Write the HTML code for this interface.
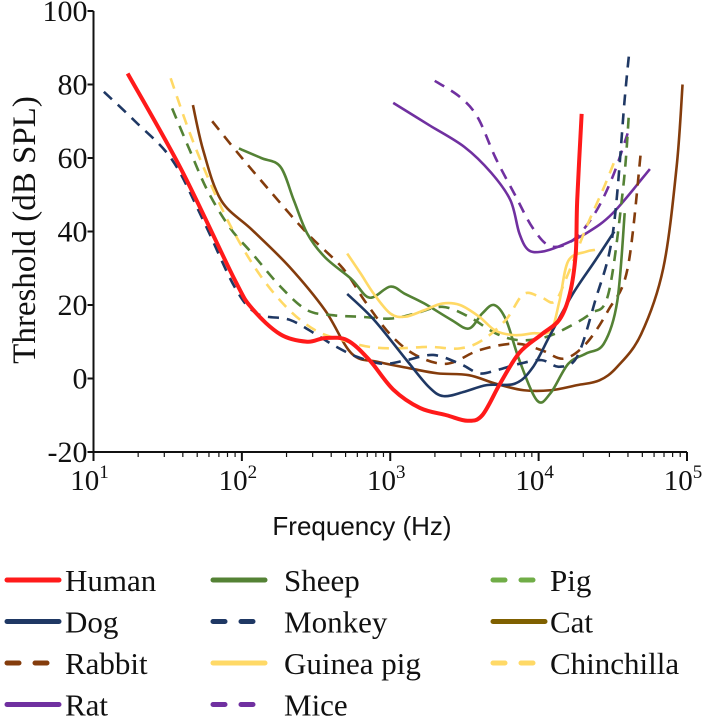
<!DOCTYPE html>
<html><head><meta charset="utf-8"><style>
body{margin:0;background:#fff;width:708px;height:721px;overflow:hidden}
svg text{font-family:"Liberation Serif",serif;fill:#111}
</style></head><body>
<svg id="c" width="708" height="721"></svg>
<script>
const speciesNames=["Human","Dog","Rabbit","Rat","Sheep","Monkey","Guinea pig","Mice","Pig","Cat","Chinchilla"];
const human=[[1.23,83],[1.59,57],[1.95,27],[2.07,19],[2.26,12],[2.44,10],[2.56,11],[2.71,10.4],[2.86,5],[3.02,-3],[3.2,-8],[3.38,-10],[3.52,-11.5],[3.62,-10],[3.74,-1.4],[3.87,7],[4.02,12],[4.14,16],[4.21,23],[4.25,34],[4.26,48.5],[4.29,72]];
const dog=[[2.71,23],[2.89,16],[3.11,5],[3.26,-2.3],[3.36,-4.8],[3.5,-3.6],[3.65,-1.8],[3.84,-1.4],[3.96,3],[4.08,12],[4.23,23],[4.38,32],[4.51,40]];
const rabbit=[[1.8,70],[1.98,61],[2.19,51],[2.44,39.5],[2.68,30],[2.83,21],[3.0,12],[3.17,6.4],[3.38,4],[3.6,7.7],[3.84,9.5],[4.02,7.7],[4.17,5.4],[4.32,9.5],[4.47,18.6],[4.6,30],[4.69,62]];
const rat=[[3.02,75],[3.26,69],[3.5,63],[3.68,56],[3.81,48.5],[3.87,39.5],[3.93,35],[4.02,34.5],[4.14,36],[4.32,39.5],[4.5,45],[4.75,57]];
const sheep=[[1.98,62.6],[2.13,60],[2.26,57.6],[2.35,48.5],[2.44,39.5],[2.56,33],[2.74,27],[2.86,22],[3.0,25],[3.1,23],[3.23,20.4],[3.41,16],[3.53,13.6],[3.62,17.7],[3.7,20],[3.78,16],[3.87,5],[3.99,-6],[4.08,-4],[4.2,4],[4.32,6.8],[4.44,9.5],[4.53,21],[4.58,45]];
const monkey=[[1.07,78],[1.28,70],[1.53,59.5],[1.74,43],[1.95,25],[2.1,17.7],[2.32,16],[2.5,12],[2.62,9],[2.77,6],[2.95,4],[3.11,5],[3.29,6.4],[3.47,4],[3.6,1.4],[3.72,2.3],[3.87,4],[4.02,5],[4.14,3.2],[4.26,6],[4.38,21],[4.5,39.5],[4.58,76],[4.61,88.5]];
const guineaPig=[[2.71,34],[2.8,28.6],[2.89,23],[3.0,17.7],[3.1,16.8],[3.23,18.6],[3.35,20.4],[3.47,20],[3.6,16.8],[3.71,13],[3.84,11.8],[3.96,12.3],[4.08,13],[4.14,21],[4.2,32],[4.32,34.5],[4.38,35]];
const mice=[[3.3,81],[3.47,76.6],[3.59,71],[3.71,60],[3.84,50],[3.96,41],[4.08,36],[4.23,37.6],[4.38,45],[4.5,55],[4.6,66.7]];
const pig=[[1.53,73.5],[1.65,62],[1.77,51],[1.92,41],[2.07,34],[2.26,25],[2.44,18.6],[2.62,17.2],[2.8,16.8],[3.0,16.3],[3.17,17.7],[3.35,19.5],[3.53,16.8],[3.71,12.3],[3.87,10.4],[4.05,11.3],[4.2,14],[4.35,17.7],[4.47,23],[4.57,52],[4.61,73]];
const cat=[[1.67,74.4],[1.74,62],[1.86,48.5],[2.07,40.4],[2.32,30.4],[2.56,18.6],[2.74,6.8],[2.92,4.5],[3.14,2.7],[3.32,1.4],[3.53,0.9],[3.71,-1.4],[3.9,-3.2],[4.08,-3.2],[4.26,-1.8],[4.41,-0.5],[4.53,3.2],[4.69,12],[4.84,30],[4.93,57.6],[4.97,80]];
const chinchilla=[[1.52,81.7],[1.65,66.7],[1.8,52],[1.95,39.5],[2.13,27.7],[2.32,18.6],[2.5,13],[2.68,10.4],[2.86,8.6],[3.05,8.2],[3.26,8.6],[3.47,8.2],[3.62,10.4],[3.78,16],[3.9,23],[4.02,22],[4.11,21],[4.2,28.6],[4.32,41],[4.44,52],[4.52,60]];
const yTicks=[100,80,60,40,20,0,-20];
const xDecades=[1,2,3,4,5];

const NS="http://www.w3.org/2000/svg",svg=document.getElementById('c');
const X0=93.5,X1=687,Y0=452,Y1=11;
const sx=l=>X0+(l-1)/4*(X1-X0);
const sy=v=>Y0+(v+20)/120*(Y1-Y0);
function mk(t,a,p){const e=document.createElementNS(NS,t);for(const k in a)e.setAttribute(k,a[k]);(p||svg).appendChild(e);return e;}
// axes
const ax=mk('line',{x1:X0,y1:Y1,x2:X0,y2:Y0,stroke:'#111','stroke-width':2});

const bx=mk('line',{x1:X0,y1:Y0,x2:X1,y2:Y0,stroke:'#111','stroke-width':2});

yTicks.forEach(v=>{
  mk('line',{x1:X0-6,y1:sy(v),x2:X0,y2:sy(v),stroke:'#111','stroke-width':2});
  const t=mk('text',{x:X0-6,y:sy(v)+10,'text-anchor':'end','font-size':30});
  
  t.textContent=v;
});
xDecades.forEach((d,i)=>{
  mk('line',{x1:sx(d),y1:Y0,x2:sx(d),y2:Y0+9,stroke:'#111','stroke-width':2});
  if(i<xDecades.length-1)for(let m=2;m<10;m++){const xx=sx(d+Math.log10(m));mk('line',{x1:xx,y1:Y0,x2:xx,y2:Y0+5,stroke:'#111','stroke-width':1.2});}
  const t=mk('text',{x:sx(d)-4,y:Y0+38,'text-anchor':'middle','font-size':29});
  
  t.textContent='10';
  const s=mk('tspan',{dy:-12,'font-size':19},t);s.textContent=d;
});
const xt=mk('text',{x:362,y:535,'text-anchor':'middle','font-size':26,style:'font-family:"Liberation Sans",sans-serif'});
xt.textContent='Frequency (Hz)';
const yt=mk('text',{x:0,y:0,'text-anchor':'middle','font-size':33,transform:'translate(35,230) rotate(-90)'});
yt.textContent='Threshold (dB SPL)';
function path(pts){const p=pts.map(q=>[sx(q[0]),sy(q[1])]);let d='M'+p[0][0]+','+p[0][1];
 for(let i=0;i<p.length-1;i++){const a=p[i-1]||p[i],b=p[i],c=p[i+1],e=p[i+2]||c;
  d+=' C'+(b[0]+(c[0]-a[0])/6)+','+(b[1]+(c[1]-a[1])/6)+' '+(c[0]-(e[0]-b[0])/6)+','+(c[1]-(e[1]-b[1])/6)+' '+c[0]+','+c[1];}
 return d;}
const series=[
 {n:'Rat',d:rat,c:'#7030a0',dash:false},{n:'Mice',d:mice,c:'#7030a0',dash:true},
 {n:'Cat',d:cat,c:'#843c0c',dash:false,lc:'#7f6000'},{n:'Rabbit',d:rabbit,c:'#843c0c',dash:true},
 {n:'Pig',d:pig,c:'#548235',dash:true,lc:'#70ad47'},{n:'Sheep',d:sheep,c:'#548235',dash:false},
 {n:'Chinchilla',d:chinchilla,c:'#ffd966',dash:true},{n:'Guinea pig',d:guineaPig,c:'#ffd966',dash:false},
 {n:'Monkey',d:monkey,c:'#1f3864',dash:true},{n:'Dog',d:dog,c:'#1f3864',dash:false},
 {n:'Human',d:human,c:'#ff1a1a',dash:false,w:4}];
series.forEach(s=>{
 const e=mk('path',{d:path(s.d),fill:'none',stroke:s.c,'stroke-width':s.w||2.6,'stroke-dasharray':s.dash?'11 8':'none','stroke-linecap':'butt'});
 
 
});
// legend
const cols=[[7,65],[213,284],[493,550]];
const order=[['Human',0,0],['Sheep',1,0],['Pig',2,0],['Dog',0,1],['Monkey',1,1],['Cat',2,1],['Rabbit',0,2],['Guinea pig',1,2],['Chinchilla',2,2],['Rat',0,3],['Mice',1,3]];
order.forEach(o=>{
 const s=series.find(q=>q.n===o[0]);const y=580+o[2]*41.5;const c=cols[o[1]];
 const g=mk('g',{});
 
 
 mk('line',{x1:c[0],y1:y,x2:c[0]+52,y2:y,stroke:s.lc||s.c,'stroke-width':5,'stroke-linecap':'round','stroke-dasharray':s.dash?'12 16':'none'},g);
 const t=mk('text',{x:c[1],y:y+11,'font-size':31},g);t.textContent=o[0];
});
</script>
</body></html>
